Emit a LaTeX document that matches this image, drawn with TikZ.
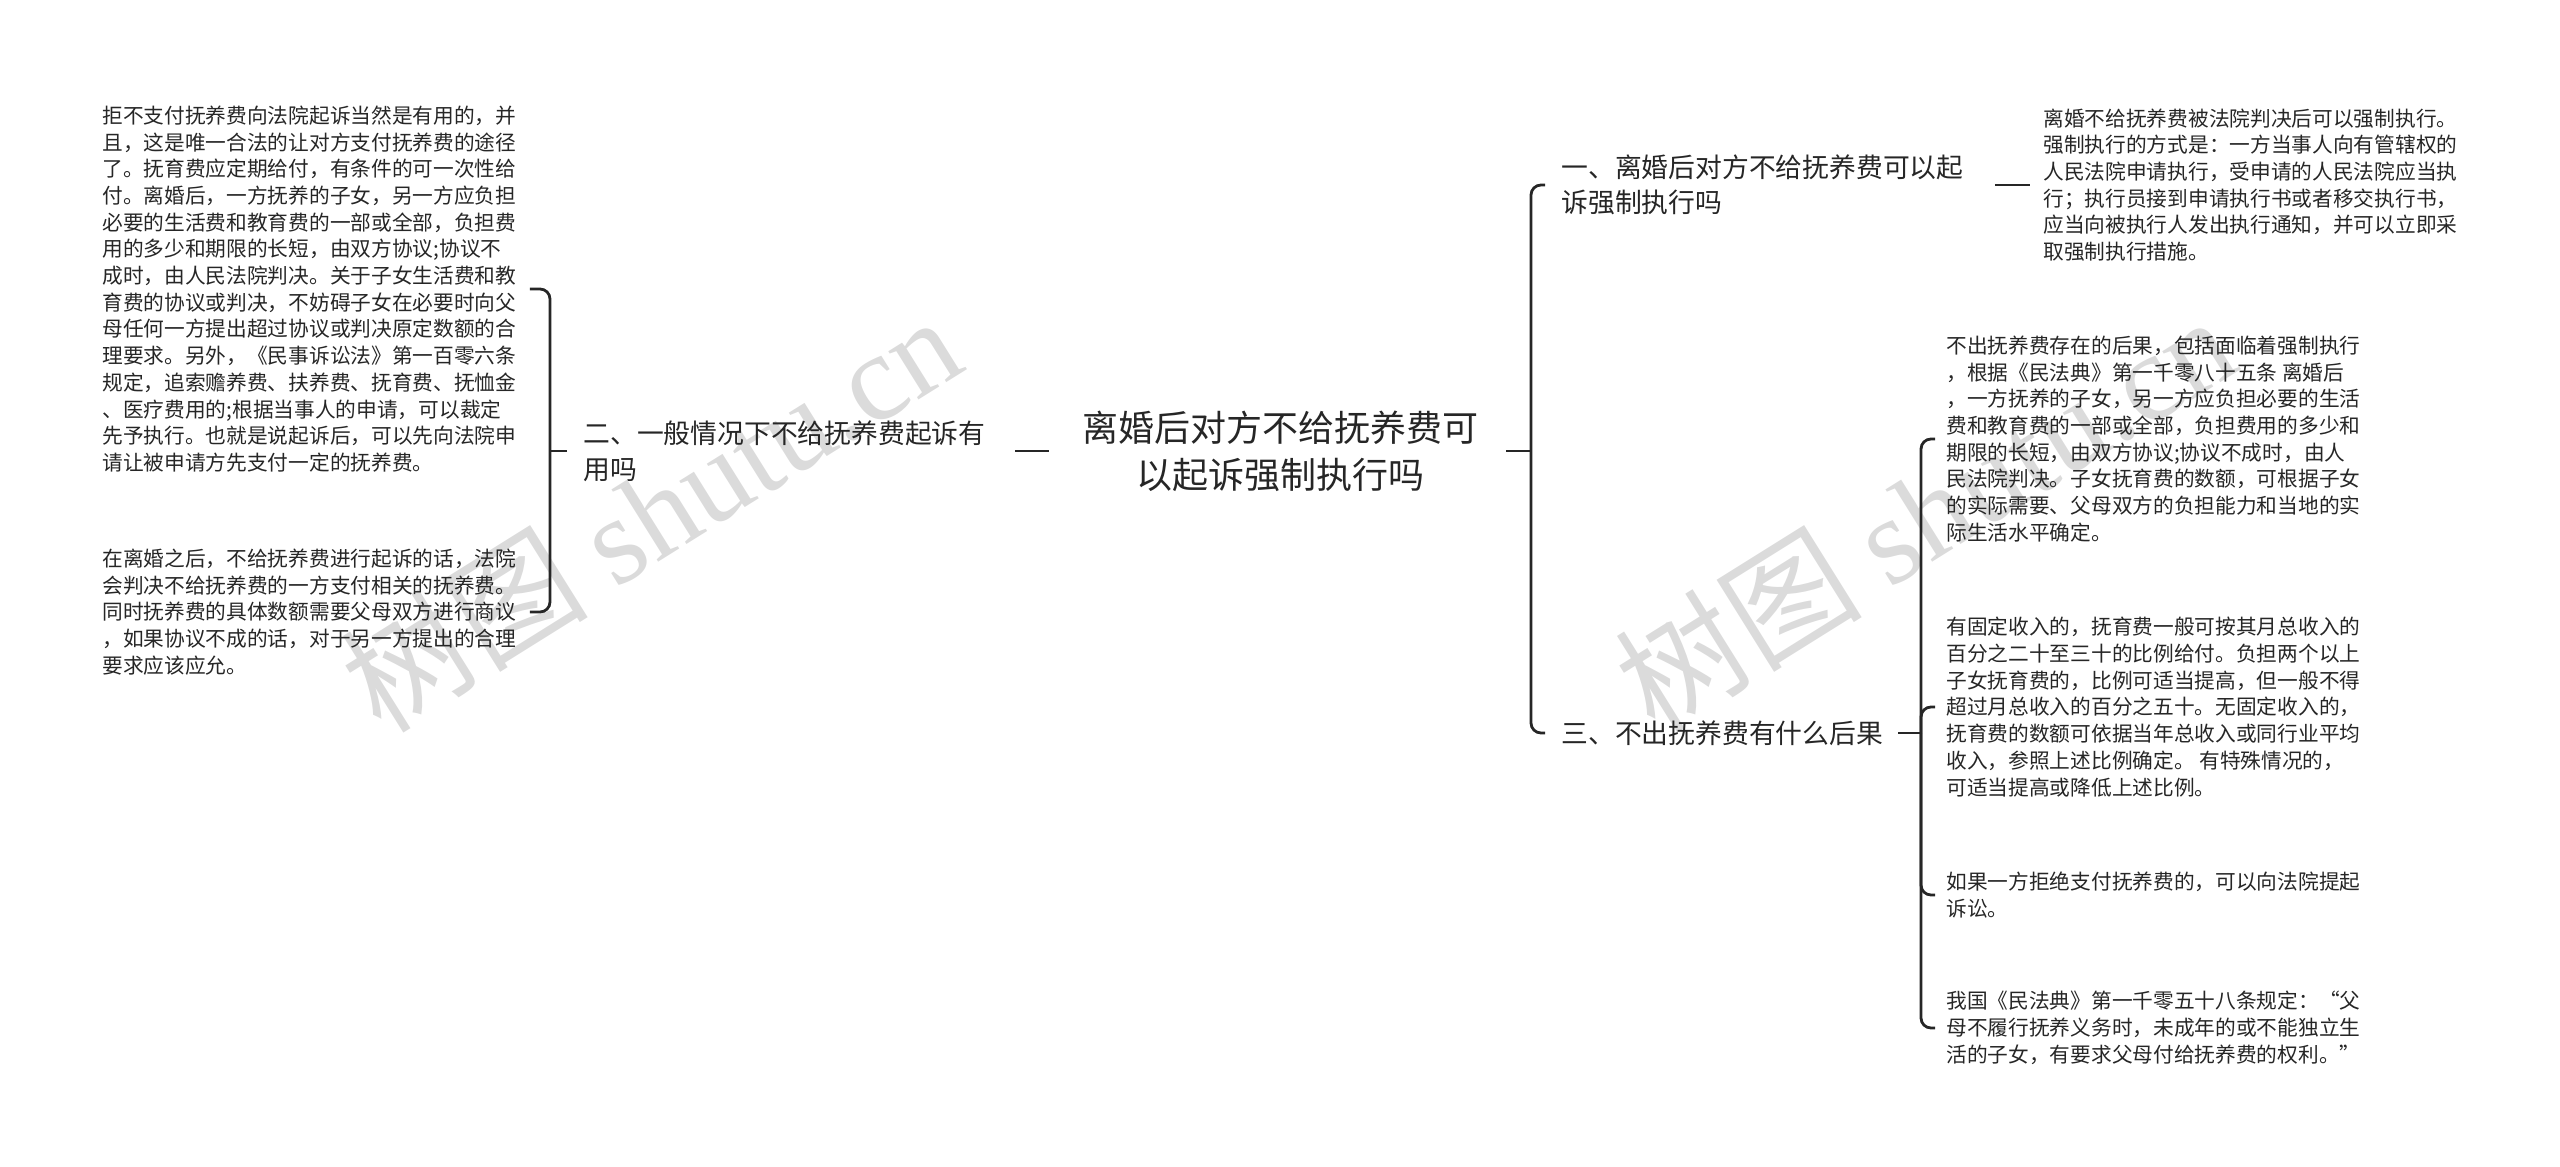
\documentclass[tikz,border=0pt]{standalone}
\usepackage{fontspec}
\usepackage{tikz}
\usetikzlibrary{calc}

\newfontfamily\cjk{Noto Sans CJK SC}
\newfontfamily\wmserif{Liberation Serif}
\definecolor{ink}{HTML}{262626}

\begin{document}
\begin{tikzpicture}[x=0.5pt, y=-0.5pt,
  link/.style={draw=ink, line width=1.4pt, rounded corners=5pt},
  roottext/.style={text=ink, inner sep=0pt, align=center, font=\cjk\fontsize{18}{23.5}\selectfont},
  subtext/.style={text=ink, inner sep=0pt, align=left, anchor=west, font=\cjk\fontsize{13.4}{17.8}\selectfont},
  leaftext/.style={text=ink, inner sep=0pt, align=left, anchor=west, font=\cjk\fontsize{10.35}{13.35}\selectfont},
  wmtext/.style={text=black!14, inner sep=0pt, rotate=32, font=\cjk\fontsize{62}{62}\selectfont}]

\useasboundingbox (0,0) rectangle (2560,1167);

% Watermark
\node[wmtext] (wm1) at (650,512) {树图 {\wmserif shutu.cn}};
\node[wmtext] (wm2) at (1924,512) {树图 {\wmserif shutu.cn}};

% Root
\node[roottext] (root) at (1280,451) {离婚后对方不给抚养费可\\以起诉强制执行吗};

% Main branches
\node[subtext] (n2) at (583,451) {二、一般情况下不给抚养费起诉有\\用吗};
\node[subtext] (n1) at (1561,185) {一、离婚后对方不给抚养费可以起\\诉强制执行吗};
\node[subtext] (n3) at (1561,733) {三、不出抚养费有什么后果};

% Leaves of the left branch
\node[leaftext] (b1) at (102,289) {拒不支付抚养费向法院起诉当然是有用的，并\\
且，这是唯一合法的让对方支付抚养费的途径\\
了。抚育费应定期给付，有条件的可一次性给\\
付。离婚后，一方抚养的子女，另一方应负担\\
必要的生活费和教育费的一部或全部，负担费\\
用的多少和期限的长短，由双方协议;协议不\\
成时，由人民法院判决。关于子女生活费和教\\
育费的协议或判决，不妨碍子女在必要时向父\\
母任何一方提出超过协议或判决原定数额的合\\
理要求。另外，《民事诉讼法》第一百零六条\\
规定，追索赡养费、扶养费、抚育费、抚恤金\\
、医疗费用的;根据当事人的申请，可以裁定\\
先予执行。也就是说起诉后，可以先向法院申\\
请让被申请方先支付一定的抚养费。};
\node[leaftext] (b2) at (102,612) {在离婚之后，不给抚养费进行起诉的话，法院\\
会判决不给抚养费的一方支付相关的抚养费。\\
同时抚养费的具体数额需要父母双方进行商议\\
，如果协议不成的话，对于另一方提出的合理\\
要求应该应允。};

% Leaf of the first branch
\node[leaftext] (c1) at (2043,185) {离婚不给抚养费被法院判决后可以强制执行。\\
强制执行的方式是：一方当事人向有管辖权的\\
人民法院申请执行，受申请的人民法院应当执\\
行；执行员接到申请执行书或者移交执行书，\\
应当向被执行人发出执行通知，并可以立即采\\
取强制执行措施。};

% Leaves of the third branch
\node[leaftext] (c3a) at (1946,439) {不出抚养费存在的后果，包括面临着强制执行\\
，根据《民法典》第一千零八十五条 离婚后\\
，一方抚养的子女，另一方应负担必要的生活\\
费和教育费的一部或全部，负担费用的多少和\\
期限的长短，由双方协议;协议不成时，由人\\
民法院判决。子女抚育费的数额，可根据子女\\
的实际需要、父母双方的负担能力和当地的实\\
际生活水平确定。};
\node[leaftext] (c3b) at (1946,707) {有固定收入的，抚育费一般可按其月总收入的\\
百分之二十至三十的比例给付。负担两个以上\\
子女抚育费的，比例可适当提高，但一般不得\\
超过月总收入的百分之五十。无固定收入的，\\
抚育费的数额可依据当年总收入或同行业平均\\
收入，参照上述比例确定。 有特殊情况的，\\
可适当提高或降低上述比例。};
\node[leaftext] (c3c) at (1946,895) {如果一方拒绝支付抚养费的，可以向法院提起\\
诉讼。};
\node[leaftext] (c3d) at (1946,1028) {我国《民法典》第一千零五十八条规定：“父\\
母不履行抚养义务时，未成年的或不能独立生\\
活的子女，有要求父母付给抚养费的权利。”};

% Left side links
\coordinate (s2) at (550,451);
\draw[link] ($(root.west)+(-33,0)$) -- ($(n2.east)+(29,0)$);
\draw[link] ($(n2.west)+(-16,0)$) -- (s2);
\draw[link] ($(b1.east)+(13,0)$) -| (s2) |- ($(b2.east)+(13,0)$);

% Right side links
\coordinate (s0) at (1531,451);
\draw[link] ($(root.east)+(28,0)$) -- (s0);
\draw[link] ($(n1.west)+(-16,0)$) -| (s0) |- ($(n3.west)+(-16,0)$);
\draw[link] ($(n1.east)+(31,0)$) -- ($(c1.west)+(-13,0)$);

% Third branch
\coordinate (s3) at (1921,733);
\draw[link] ($(n3.east)+(15,0)$) -- (s3);
\draw[link] ($(c3a.west)+(-11,0)$) -| (s3) |- ($(c3d.west)+(-11,0)$);
\draw[link] ($(c3b.west)+(-11,0)$) -| (s3);
\draw[link] ($(c3c.west)+(-11,0)$) -| (s3);
\end{tikzpicture}
\end{document}
